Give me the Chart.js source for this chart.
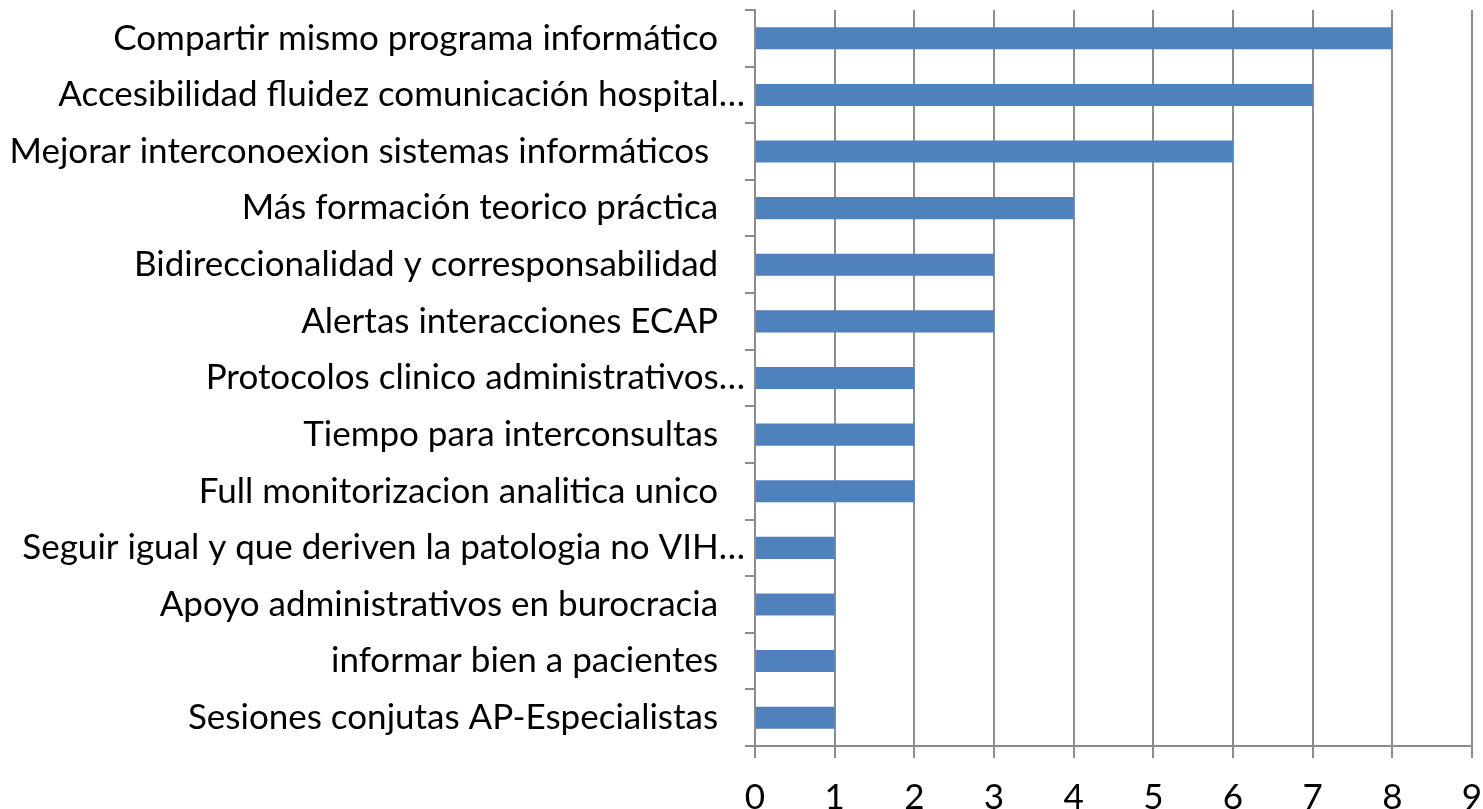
<!DOCTYPE html>
<html>
<head>
<meta charset="utf-8">
<script src="https://cdn.jsdelivr.net/npm/chart.js@4"></script>
<style>
  html, body { margin: 0; padding: 0; background: #fff; }
  #wrap { width: 1483px; height: 809px; }
</style>
</head>
<body>
<div id="wrap"><canvas id="chart"></canvas></div>
<script>
// categories, top to bottom (trailing spaces as in the source labels)
const categories = [
  'Compartir mismo programa informático   ',
  'Accesibilidad fluidez comunicación hospital…',
  'Mejorar interconoexion sistemas informáticos    ',
  'Más formación teorico práctica   ',
  'Bidireccionalidad y corresponsabilidad   ',
  'Alertas interacciones ECAP   ',
  'Protocolos clinico administrativos…',
  'Tiempo para interconsultas   ',
  'Full monitorizacion analitica unico   ',
  'Seguir igual y que deriven la patologia no VIH…',
  'Apoyo administrativos en burocracia   ',
  'informar bien a pacientes   ',
  'Sesiones conjutas AP-Especialistas   '
];
const counts = [8, 7, 6, 4, 3, 3, 2, 2, 2, 1, 1, 1, 1];
const xTicks = [0, 1, 2, 3, 4, 5, 6, 7, 8, 9];

const gridGray = '#8c8c8c';

new Chart(document.getElementById('chart'), {
  type: 'bar',
  data: {
    labels: categories,
    datasets: [{
      data: counts,
      backgroundColor: '#4f81bd',
      borderWidth: 0,
      barPercentage: 0.39,
      categoryPercentage: 1
    }]
  },
  options: {
    indexAxis: 'y',
    responsive: true,
    maintainAspectRatio: false,
    animation: false,
    layout: { padding: { top: 10, right: 11, left: 0, bottom: 0 } },
    plugins: {
      legend: { display: false },
      tooltip: { enabled: false }
    },
    scales: {
      x: {
        min: 0,
        max: xTicks[xTicks.length - 1],
        afterBuildTicks: s => { s.ticks = xTicks.map(v => ({ value: v })); },
        afterFit: s => { s.height = 63; s.paddingLeft = 0; s.paddingRight = 0; },
        grid: { color: gridGray, lineWidth: 2, tickLength: 12, drawTicks: true },
        border: { color: gridGray, width: 2 },
        ticks: {
          color: '#000',
          padding: 19,
          font: { family: 'Lato', size: 35 }
        }
      },
      y: {
        afterFit: s => { s.width = 755; s.paddingTop = 0; s.paddingBottom = 0; },
        grid: { offset: true, drawOnChartArea: false, color: gridGray, lineWidth: 2, tickLength: 10 },
        border: { color: gridGray, width: 2 },
        ticks: {
          color: '#000',
          padding: 0,
          autoSkip: false,
          font: { family: 'Lato', size: 35 }
        }
      }
    }
  }
});
</script>
</body>
</html>
